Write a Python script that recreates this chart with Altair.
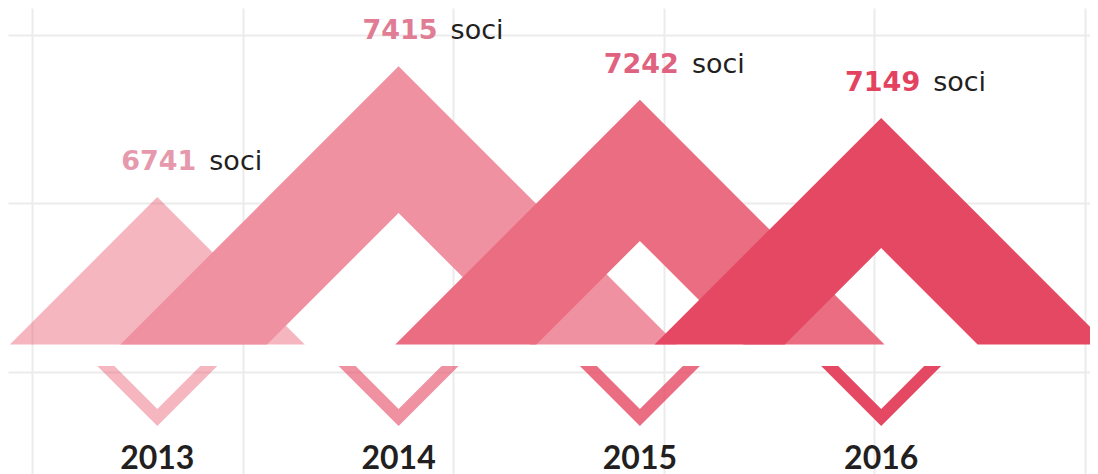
import altair as alt
import pandas as pd

# ---- data ----
years = [2013, 2014, 2015, 2016]
members = [6741, 7415, 7242, 7149]          # "soci" per year (peak of each mountain)
inner_peak = [None, 6659, 6515, 6478]       # apex of the white cut-out inside each mountain
base_value = 5981                           # value at the mountains' base line
unit_word = "soci"

# ---- styles ----
base_color = "#E54862"
shade_opacity = [0.4, 0.6, 0.8, 1.0]
mountain_fill = ["#E54862", "#EF91A1", "#EA6D81", "#E54862"]
mountain_opacity = [0.4, 1.0, 1.0, 1.0]
number_colors = ["#E699AC", "#E07D95", "#DF6280", "#E3435F"]
text_color = "#231F20"
grid_color = "#EBEBEB"

# ---- layout ----
W, H = 1082, 466
px_per_year = 241.3
px_per_soci = 0.194
x0 = 2012.3813
y1 = 7715.5
x_domain = [x0, x0 + W / px_per_year]
y_domain = [y1 - H / px_per_soci, y1]
ratio = px_per_soci / px_per_year            # years per soci for a 45 degree slope

grid_x_px = [24 + 210.6 * k for k in range(6)]
grid_y_px = [26.5, 195, 364]
grid_x_vals = [x_domain[0] + p / px_per_year for p in grid_x_px]
grid_y_vals = [y_domain[1] - p / px_per_soci for p in grid_y_px]

xscale = alt.Scale(domain=x_domain, nice=False, zero=False)
yscale = alt.Scale(domain=y_domain, nice=False, zero=False)
xaxis = alt.Axis(values=grid_x_vals, grid=True, gridColor=grid_color, gridWidth=2,
                 labels=False, ticks=False, domain=False, title=None)
yaxis = alt.Axis(values=grid_y_vals, grid=True, gridColor=grid_color, gridWidth=2,
                 labels=False, ticks=False, domain=False, title=None)


def xenc(field):
    return alt.X(field, type="quantitative", scale=xscale, axis=xaxis)


def yenc(field):
    return alt.Y(field, type="quantitative", scale=yscale, axis=yaxis, stack=None)


layers = []

# mountains
for i, (yr, v, hi) in enumerate(zip(years, members, inner_peak)):
    half = (v - base_value) * ratio
    pts = [(yr - half, base_value, base_value)]
    if hi is not None:
        hh = (hi - base_value) * ratio
        side = v - hi + base_value
        pts += [(yr - hh, side, base_value), (yr, v, hi), (yr + hh, side, base_value)]
    else:
        pts += [(yr, v, base_value)]
    pts += [(yr + half, base_value, base_value)]
    df = pd.DataFrame(pts, columns=["px", "ytop", "ybot"])
    layers.append(
        alt.Chart(df).mark_area(color=mountain_fill[i], opacity=mountain_opacity[i], clip=True,
                                interpolate="linear", orient="vertical")
        .encode(x=xenc("px"), y=yenc("ytop"), y2="ybot")
    )

# small V markers below each mountain
gap_px, depth_px, halfw_px, thick_px = 21.5, 60, 60, 17
v_top = base_value - gap_px / px_per_soci
for i, yr in enumerate(years):
    hw = halfw_px / px_per_year
    iw = (halfw_px - thick_px) / px_per_year
    pts = [
        (yr - hw, v_top, v_top),
        (yr - iw, v_top, v_top - thick_px / px_per_soci),
        (yr, v_top - (depth_px - thick_px) / px_per_soci, v_top - depth_px / px_per_soci),
        (yr + iw, v_top, v_top - thick_px / px_per_soci),
        (yr + hw, v_top, v_top),
    ]
    df = pd.DataFrame(pts, columns=["px", "ytop", "ybot"])
    layers.append(
        alt.Chart(df).mark_area(color=base_color, opacity=shade_opacity[i],
                                interpolate="linear", orient="vertical")
        .encode(x=xenc("px"), y=yenc("ytop"), y2="ybot")
    )

lab = pd.DataFrame({"year": years, "members": members, "color": number_colors,
                    "word": [unit_word] * 4})
lab["year_y"] = base_value - 125 / px_per_soci

numbers = alt.Chart(lab).mark_text(
    align="right", baseline="alphabetic", dx=39, dy=-27,
    font="DejaVu Sans", fontWeight="bold", fontSize=27
).encode(x=xenc("year"), y=yenc("members"), text=alt.Text("members:Q", format="d"),
         color=alt.Color("color:N", scale=None))

words = alt.Chart(lab).mark_text(
    align="left", baseline="alphabetic", dx=52, dy=-27,
    font="DejaVu Sans", fontWeight="normal", fontSize=27, color=text_color
).encode(x=xenc("year"), y=yenc("members"), text="word:N")

year_labels = alt.Chart(lab).mark_text(
    align="center", baseline="alphabetic",
    font="Lato", fontWeight="bold", fontSize=32, color=text_color
).encode(x=xenc("year"), y=yenc("year_y"), text=alt.Text("year:Q", format="d"))

chart = alt.layer(*layers, numbers, words, year_labels).properties(
    width=W, height=H, padding=0,
    autosize=alt.AutoSizeParams(type="none"),
    background="white",
).configure_view(stroke=None)

chart.save("out.html", embed_options={"renderer": "svg", "actions": False})
